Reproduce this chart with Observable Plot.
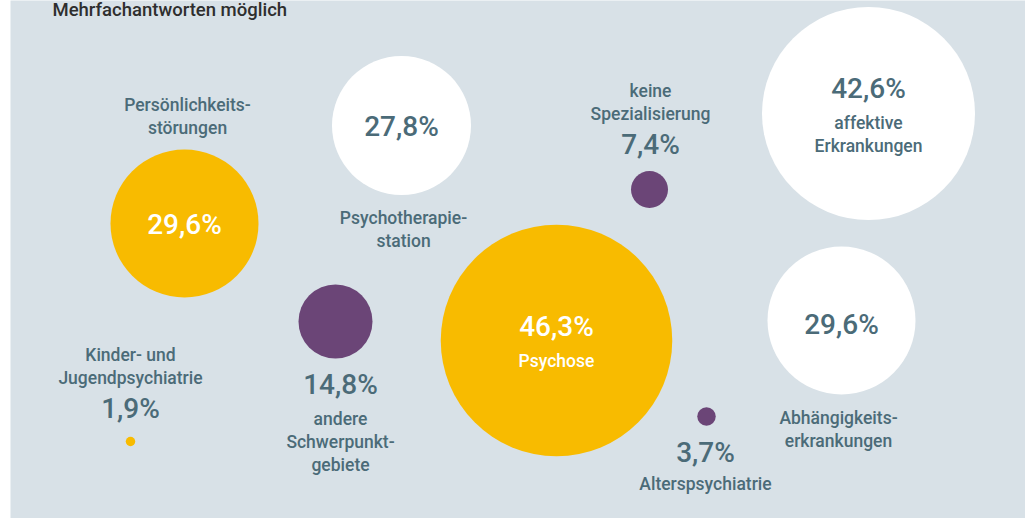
<!DOCTYPE html>
<html>
<head>
<meta charset="utf-8">
<script src="https://cdn.jsdelivr.net/npm/d3@7"></script>
<script src="https://cdn.jsdelivr.net/npm/@observablehq/plot@0.6"></script>
<style>
  html, body { margin: 0; padding: 0; background: #ffffff; }
  #chart svg { display: block; }
</style>
</head>
<body>
<div id="chart"></div>
<script>
// ---- data ----
const categories = [
  "Persönlichkeits-\nstörungen",
  "Psychotherapie-\nstation",
  "keine\nSpezialisierung",
  "affektive\nErkrankungen",
  "Kinder- und\nJugendpsychiatrie",
  "andere\nSchwerpunkt-\ngebiete",
  "Psychose",
  "Abhängigkeits-\nerkrankungen",
  "Alterspsychiatrie"
];
const values = [29.6, 27.8, 7.4, 42.6, 1.9, 14.8, 46.3, 29.6, 3.7];
const groups = ["gelb", "weiß", "lila", "weiß", "gelb", "lila", "gelb", "weiß", "lila"];
const subtitle = "Mehrfachantworten möglich";

// ---- layout (bubble placement, in layout units) ----
const bubbleX = [184, 401, 649, 868, 130, 335, 556, 841, 706];
const bubbleY = [223, 125, 189, 113, 441, 321, 340, 320, 416];
const valueX  = [184, 401, 650, 868, 130, 340, 556, 841, 705];
const valueY  = [225, 127, 145,  89, 409, 385, 327, 325, 453];
const nameX   = [187, 403, 650, 868, 130, 340, 556, 838, 705];
const nameY   = [114.5, 227.5, 101, 132.5, 364.5, 440, 359, 428, 482];

const palette = {gelb: "#f8bb00", "weiß": "#ffffff", lila: "#6b4577"};
const textDark = "#4b6b78";

const rows = categories.map((c, i) => ({
  name: c,
  value: values[i],
  group: groups[i],
  bx: bubbleX[i], by: bubbleY[i],
  vx: valueX[i], vy: valueY[i],
  nx: nameX[i], ny: nameY[i],
  label: values[i].toFixed(1).replace(".", ",") + "%"
}));

const font = "Roboto, 'Noto Sans', sans-serif";

const chart = Plot.plot({
  width: 1025,
  height: 518,
  margin: 0,
  x: {domain: [0, 1025], range: [0, 1025], axis: null},
  y: {domain: [0, 518], range: [0, 518], axis: null},
  r: {type: "linear", domain: [0, 46.3], range: [0, 115.75]},
  style: {fontFamily: font, background: "transparent"},
  marks: [
    Plot.frame({fill: "#d8e1e7", stroke: null, insetLeft: 10}),
    Plot.text([subtitle], {
      x: () => 52, y: () => 2, text: d => d,
      textAnchor: "start", lineAnchor: "top",
      fontSize: 18.5, fontWeight: 500, fill: "#2e2e2e"
    }),
    Plot.dot(rows, {
      x: "bx", y: "by", r: "value",
      fill: d => palette[d.group], stroke: null
    }),
    Plot.text(rows, {
      x: "vx", y: "vy", text: "label",
      fill: d => d.group === "gelb" && d.value > 10 ? "#ffffff" : textDark,
      fontSize: 28, fontWeight: 500, lineAnchor: "middle"
    }),
    Plot.text(rows, {
      x: "nx", y: "ny", text: "name",
      fill: d => d.group === "gelb" && d.value > 40 ? "#ffffff" : textDark,
      fontSize: 17.5, fontWeight: 500, lineAnchor: "middle", lineHeight: 1.32
    })
  ]
});

document.getElementById("chart").appendChild(chart);
</script>
</body>
</html>
